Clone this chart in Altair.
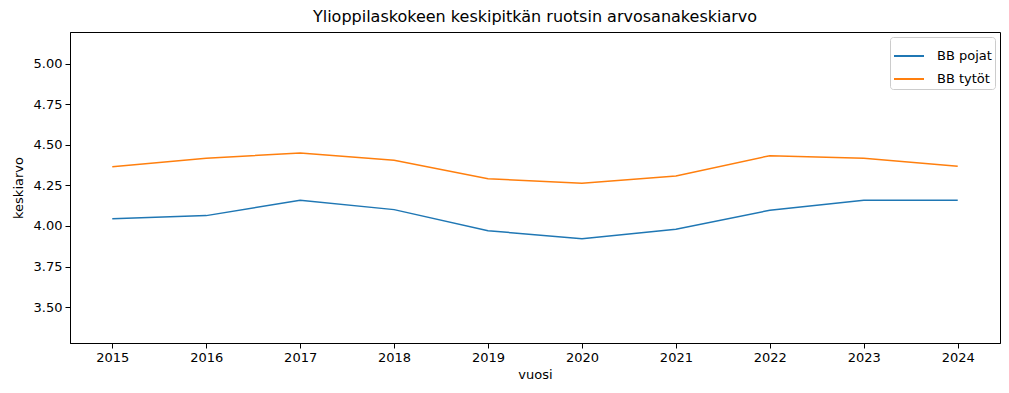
import altair as alt
import pandas as pd

years = [2015, 2016, 2017, 2018, 2019, 2020, 2021, 2022, 2023, 2024]
pojat = [4.045, 4.064, 4.159, 4.101, 3.971, 3.922, 3.980, 4.097, 4.159, 4.159]
tytot = [4.366, 4.418, 4.451, 4.405, 4.292, 4.263, 4.309, 4.434, 4.418, 4.368]
series = ["BB pojat", "BB tytöt"]
colors = ["#1f77b4", "#ff7f0e"]

rows = []
for y, v in zip(years, pojat):
    rows.append({"vuosi": y, "keskiarvo": v, "sarja": series[0]})
for y, v in zip(years, tytot):
    rows.append({"vuosi": y, "keskiarvo": v, "sarja": series[1]})
df = pd.DataFrame(rows)

font = "DejaVu Sans"

chart = (
    alt.Chart(df)
    .mark_line(strokeWidth=1.5, clip=True)
    .encode(
        x=alt.X(
            "vuosi:Q",
            title="vuosi",
            scale=alt.Scale(domain=[2014.55, 2024.45], nice=False, zero=False),
            axis=alt.Axis(values=years, format="d", grid=False, tickSize=5,
                          labelPadding=3, titlePadding=4),
        ),
        y=alt.Y(
            "keskiarvo:Q",
            title="keskiarvo",
            scale=alt.Scale(domain=[3.278, 5.197], nice=False, zero=False),
            axis=alt.Axis(values=[3.5, 3.75, 4.0, 4.25, 4.5, 4.75, 5.0],
                          format=".2f", grid=False, tickSize=5,
                          labelPadding=3, titlePadding=8),
        ),
        color=alt.Color(
            "sarja:N",
            scale=alt.Scale(domain=series, range=colors),
            legend=alt.Legend(
                title=None,
                orient="top-right",
                symbolType="stroke",
                symbolStrokeWidth=2,
                symbolSize=900,
                labelFontSize=13,
                labelFont=font,
                labelOffset=12,
                strokeColor="#cccccc",
                fillColor="white",
                padding=3,
                cornerRadius=3,
                offset=5,
                rowPadding=-9,
            ),
        ),
    )
    .properties(
        width=930,
        height=311,
        title=alt.Title(
            "Ylioppilaskokeen keskipitkän ruotsin arvosanakeskiarvo",
            fontSize=16,
            font=font,
            fontWeight="normal",
            offset=7,
        ),
        autosize=alt.AutoSizeParams(type="none"),
        padding={"left": 62, "top": 24, "right": 1, "bottom": 42},
    )
    .configure_view(stroke="black", strokeWidth=1)
    .configure_axis(
        labelFont=font,
        titleFont=font,
        labelFontSize=13,
        titleFontSize=13,
        titleFontWeight="normal",
        labelColor="black",
        titleColor="black",
        tickColor="black",
        domainColor="black",
    )
)

chart.save("out.html", embed_options={"renderer": "svg", "actions": False})
